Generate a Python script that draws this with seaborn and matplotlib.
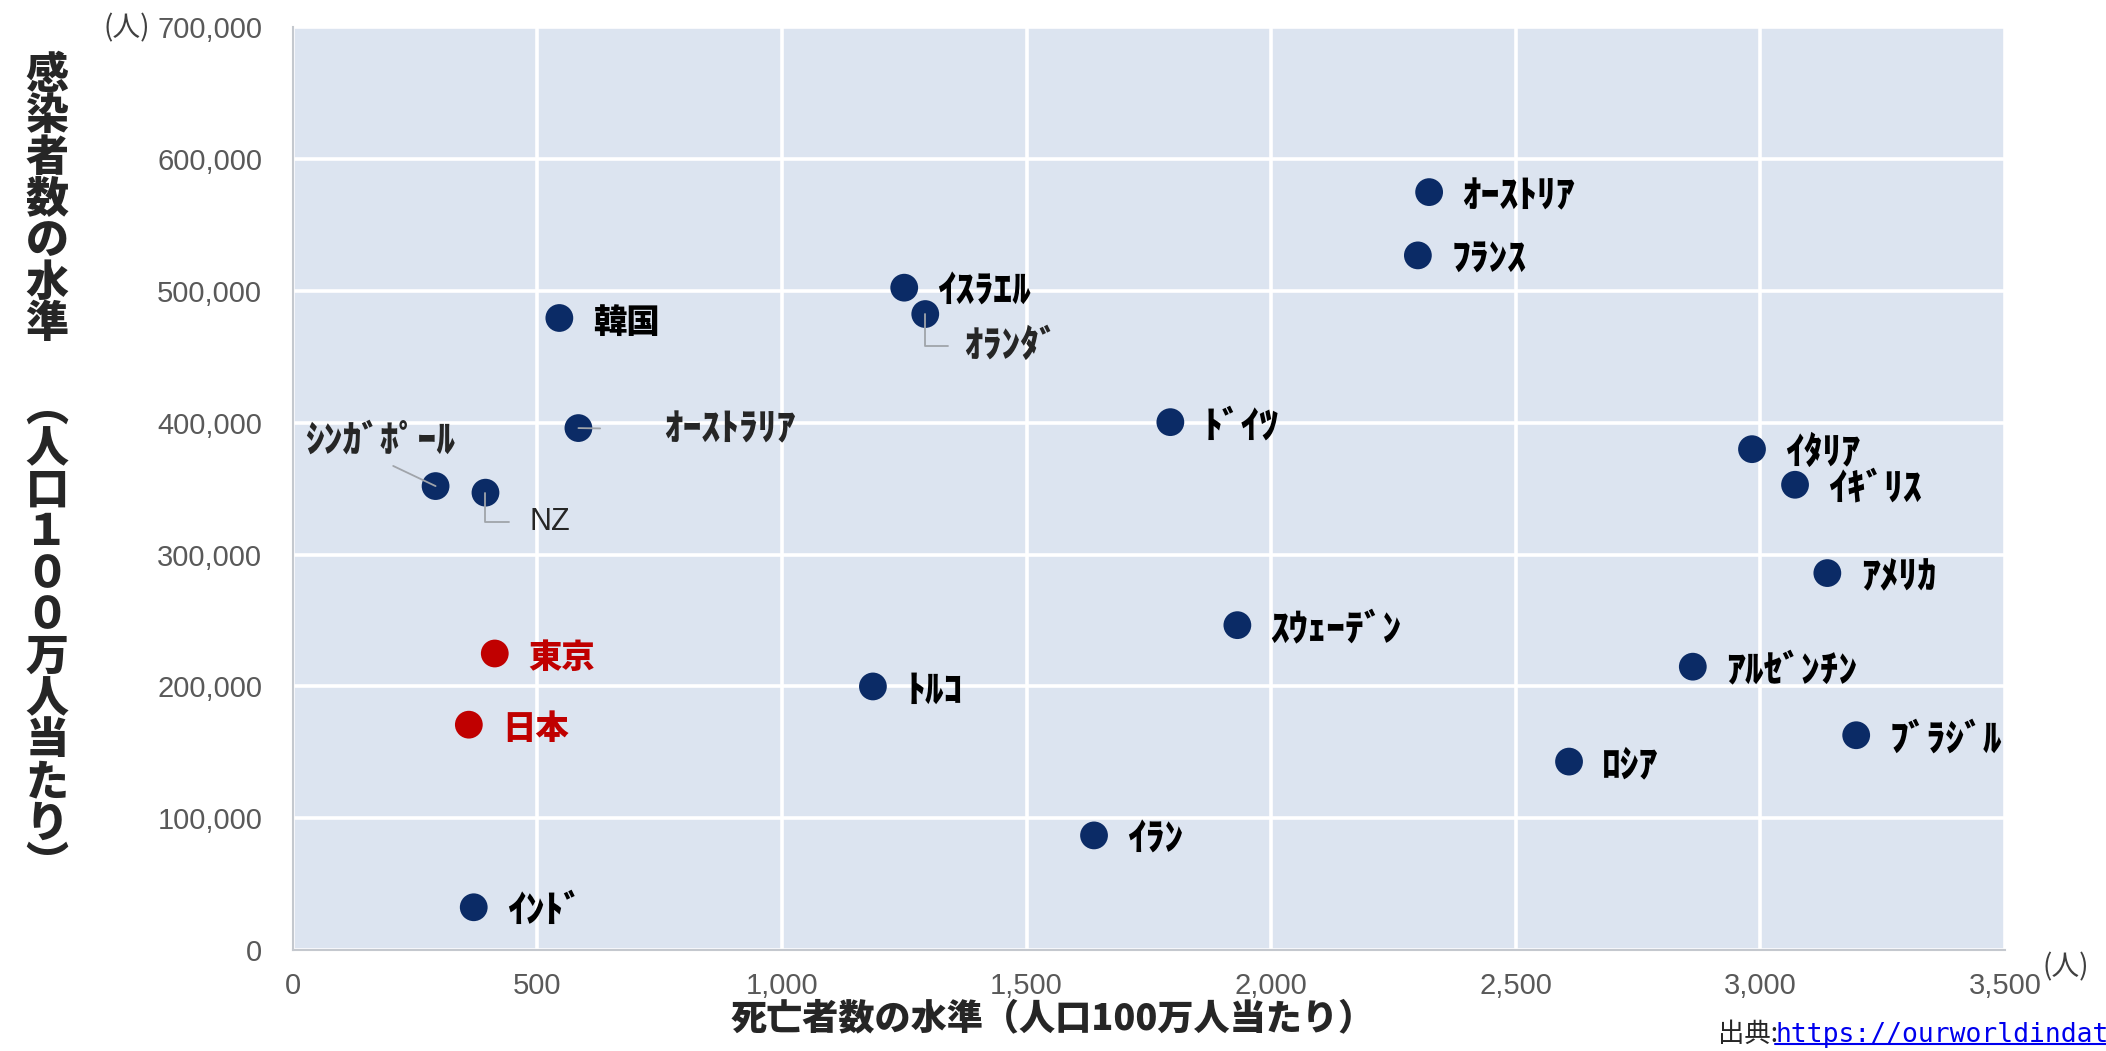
import numpy as np
import pandas as pd
import seaborn as sns
import matplotlib.pyplot as plt
from matplotlib.ticker import FuncFormatter, MultipleLocator
from matplotlib.lines import Line2D

sns.set_theme(style='white')
plt.rcParams['font.family'] = ['Liberation Sans', 'Noto Sans CJK JP', 'DejaVu Sans']

# data (per 1M population)
countries = ['ｼﾝｶﾞﾎﾟｰﾙ', 'NZ', '韓国', 'ｵｰｽﾄﾗﾘｱ', '東京', '日本', 'ｲﾝﾄﾞ',
             'ｲｽﾗｴﾙ', 'ｵﾗﾝﾀﾞ', 'ﾄﾙｺ', 'ｲﾗﾝ', 'ﾄﾞｲﾂ', 'ｽｳｪｰﾃﾞﾝ',
             'ｵｰｽﾄﾘｱ', 'ﾌﾗﾝｽ', 'ﾛｼｱ', 'ｱﾙｾﾞﾝﾁﾝ', 'ｲﾀﾘｱ', 'ｲｷﾞﾘｽ', 'ｱﾒﾘｶ', 'ﾌﾞﾗｼﾞﾙ']
deaths = [292, 394, 545, 584, 413, 360, 370,
          1250, 1293, 1186, 1638, 1794, 1931,
          2323, 2300, 2609, 2862, 2983, 3071, 3137, 3196]
cases = [352000, 347000, 479500, 396000, 225000, 171000, 32500,
         502500, 482500, 200000, 87000, 400500, 246500,
         575000, 527000, 143000, 215000, 380000, 353000, 286000, 163000]
group = ['world'] * 4 + ['japan'] * 2 + ['world'] * 15

df = pd.DataFrame({'country': countries, 'deaths': deaths, 'cases': cases, 'group': group})

NAVY = '#0B2B66'
RED = '#C00000'
palette = {'world': NAVY, 'japan': RED}

fig = plt.figure(figsize=(21.06, 10.51), dpi=100)
ax = fig.add_axes([0.139, 0.096, 0.813, 0.878])
ax.set_facecolor('#DCE4F0')

sns.scatterplot(data=df, x='deaths', y='cases', hue='group', palette=palette,
                s=400, linewidth=0, legend=False, ax=ax, zorder=3)

ax.set_xlim(0, 3500)
ax.set_ylim(0, 700000)
ax.xaxis.set_major_locator(MultipleLocator(500))
ax.yaxis.set_major_locator(MultipleLocator(100000))
ax.xaxis.set_major_formatter(FuncFormatter(lambda v, p: f'{int(v):,}'))
ax.yaxis.set_major_formatter(FuncFormatter(lambda v, p: f'{int(v):,}'))
ax.tick_params(axis='both', length=0, labelsize=21, labelcolor='#595959')
ax.tick_params(axis='y', pad=22)
ax.tick_params(axis='x', pad=16)
ax.grid(True, color='white', linewidth=2.6)
ax.set_axisbelow(True)
for side in ['top', 'right']:
    ax.spines[side].set_visible(False)
for side in ['left', 'bottom']:
    ax.spines[side].set_color('#C4C8CE')
    ax.spines[side].set_linewidth(1.5)
ax.set_xlabel('')
ax.set_ylabel('')

# labels: default offset to the right of each dot
kana_font = dict(family=['Noto Sans CJK JP'], fontsize=27, fontweight='heavy')
kanji_font = dict(family=['Noto Sans CJK JP'], fontsize=24, fontweight='heavy')
kanji = {'韓国', '東京', '日本'}
special = {'ｼﾝｶﾞﾎﾟｰﾙ', 'NZ', 'ｵｰｽﾄﾗﾘｱ', 'ｵﾗﾝﾀﾞ'}
for _, r in df.iterrows():
    if r['country'] in special:
        continue
    color = RED if r['group'] == 'japan' else 'black'
    font = kanji_font if r['country'] in kanji else kana_font
    ax.annotate(r['country'], (r['deaths'], r['cases']), xytext=(24, -3),
                textcoords='offset points', ha='left', va='center',
                color=color, zorder=4, **font)

lead = dict(arrowstyle='-', color='#A0A4AA', lw=1.3)


def row(name):
    return df[df['country'] == name].iloc[0]


r = row('ｼﾝｶﾞﾎﾟｰﾙ')
ax.annotate(r['country'], (r['deaths'], r['cases']), xytext=(-40, 19),
            textcoords='offset points', ha='center', va='bottom', zorder=4,
            arrowprops=dict(relpos=(0.5, 0.0), shrinkA=5, shrinkB=0, **lead), **kana_font)

r = row('ｵｰｽﾄﾗﾘｱ')
ax.annotate(r['country'], (r['deaths'], r['cases']), xytext=(62, -1),
            textcoords='offset points', ha='left', va='center', zorder=4,
            arrowprops=dict(relpos=(0.0, 0.5), shrinkA=44, shrinkB=0, **lead), **kana_font)

r = row('ｵﾗﾝﾀﾞ')
ax.annotate(r['country'], (r['deaths'], r['cases']), xytext=(28, -23),
            textcoords='offset points', ha='left', va='center', zorder=4,
            arrowprops=dict(relpos=(0.0, 0.5), shrinkA=9, shrinkB=0,
                            connectionstyle='angle,angleA=0,angleB=90,rad=0', **lead), **kana_font)

r = row('NZ')
ax.annotate(r['country'], (r['deaths'], r['cases']), xytext=(32, -21),
            textcoords='offset points', ha='left', va='center', zorder=4,
            family=['Liberation Sans'], fontsize=22,
            arrowprops=dict(relpos=(0.0, 0.5), shrinkA=13, shrinkB=0,
                            connectionstyle='angle,angleA=0,angleB=90,rad=0', **lead))

# unit marks
fig.text(0.049, 0.973, '(人)', fontsize=20, color='#404040', ha='left', va='center',
         family=['Noto Sans CJK JP'])
fig.text(0.970, 0.080, '(人)', fontsize=20, color='#404040', ha='left', va='center',
         family=['Noto Sans CJK JP'])

# x axis title
fig.text(0.5, 0.031, '死亡者数の水準（人口100万人当たり）', fontsize=26, fontweight='heavy',
         ha='center', va='center', family=['Noto Sans CJK JP'])

# y axis title, written vertically one character per row
ytitle = '感染者数の水準　︵人口１００万人当たり︶'
top_px, step_px = 75, 41.6
for i, ch in enumerate(ytitle):
    fig.text(47 / 2106, 1 - (top_px + i * step_px) / 1051, ch, fontsize=31, fontweight='heavy',
             ha='center', va='center', family=['Noto Sans CJK JP'])

# source
fig.text(0.816, 0.003, '出典:', fontsize=19, ha='left', va='bottom',
         family=['Noto Sans CJK JP'])
url = fig.text(0.843, 0.003, 'https://ourworldindata.org/coronavirus', fontsize=19,
               color='#0000EE', ha='left', va='bottom', family=['DejaVu Sans Mono'])
fig.canvas.draw()
bb = url.get_window_extent().transformed(fig.transFigure.inverted())
fig.add_artist(Line2D([bb.x0, bb.x1], [bb.y0 + 0.004, bb.y0 + 0.004],
                      transform=fig.transFigure, color='#0000EE', lw=1.5))

fig.savefig('out.png', dpi=100, facecolor='white')
